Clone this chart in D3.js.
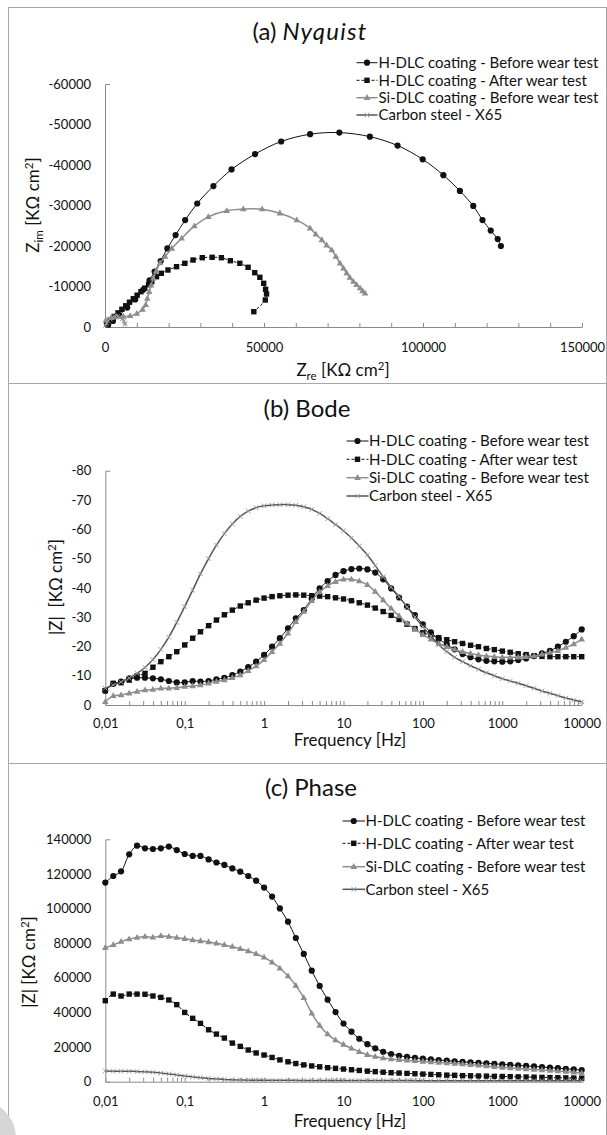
<!DOCTYPE html>
<html>
<head>
<meta charset="utf-8">
<script src="https://cdn.jsdelivr.net/npm/d3@7"></script>
<style>
  html, body { margin: 0; padding: 0; background: #fff; }
  svg { display: block; }
</style>
</head>
<body>
<svg id="fig" width="607" height="1135"></svg>
<script>
// ---------------------------------------------------------------------------
// Data
// ---------------------------------------------------------------------------
const seriesNames = [
  "H-DLC coating - Before wear test",
  "H-DLC coating - After wear test",
  "Si-DLC coating - Before wear test",
  "Carbon steel - X65"
];

// Nyquist: [Z_re, Z_im] in KΩ cm²
const nyqHdlcBefore = [[1000,-500],[2500,-1500],[4500,-2900],[7000,-4800],[9500,-6800],[12000,-9200],[14000,-11500],[15600,-13700],[17500,-16300],[19600,-19400],[22200,-22700],[25200,-26400],[29000,-30500],[34100,-34800],[39800,-38900],[47200,-42700],[55400,-45800],[64500,-47600],[73700,-48000],[83300,-47000],[92000,-44800],[99900,-41400],[106400,-37500],[111600,-33600],[115800,-29900],[118700,-26400],[121300,-23800],[123500,-21700],[124500,-20000]];
const nyqHdlcAfter = [[530,-910],[1700,-1760],[2900,-2630],[4100,-3500],[5300,-4370],[6500,-5240],[7700,-6110],[8900,-6980],[10100,-7850],[11300,-8720],[12500,-9590],[13700,-10460],[14700,-11180],[16200,-12420],[17700,-13260],[19800,-14070],[22500,-14890],[25100,-15730],[27700,-16540],[30600,-17110],[33700,-17210],[36600,-17110],[39400,-16370],[42400,-15730],[45000,-14740],[47100,-13410],[48700,-12270],[49900,-10790],[50500,-9310],[50800,-8150],[50400,-6670],[46800,-3780]];
const nyqSiDlc = [[300,-1700],[2000,-2300],[3700,-2550],[5800,-2600],[7900,-2750],[10000,-3300],[11800,-4300],[12800,-5500],[13300,-7000],[13900,-8700],[14500,-10300],[15200,-12000],[16100,-13800],[17300,-15800],[18900,-17400],[21000,-19400],[24100,-21900],[28100,-24900],[32500,-27200],[38300,-28700],[43500,-29100],[49400,-29100],[55000,-28100],[60300,-26400],[64500,-24400],[66300,-22900],[68200,-21500],[69700,-20200],[71300,-19000],[72600,-17400],[73900,-15700],[75000,-14500],[76000,-13300],[77000,-12200],[78100,-11200],[79100,-10400],[80200,-9600],[81000,-8900],[81800,-8300]];
const nyqSteel = [[200,-400],[500,-900],[1000,-1500],[1600,-2000],[2300,-2400],[3100,-2600],[3900,-2600],[4700,-2400],[5400,-2000],[5900,-1500],[6200,-1000],[6300,-600]];

// Frequency sweep shared by the Bode and Phase panels (Hz)
const freqHz = [0.01,0.0126,0.0158,0.02,0.0251,0.0316,0.0398,0.0501,0.0631,0.0794,
  0.1,0.126,0.158,0.2,0.251,0.316,0.398,0.501,0.631,0.794,
  1,1.26,1.58,2,2.51,3.16,3.98,5.01,6.31,7.94,
  10,12.6,15.8,20,25.1,31.6,39.8,50.1,63.1,79.4,
  100,126,158,200,251,316,398,501,631,794,
  1000,1259,1585,1995,2512,3162,3981,5012,6310,7943,10000];

// Bode panel values
const bodeHdlcBefore = [-4.9,-7.2,-8.0,-9.1,-9.3,-9.3,-9.1,-8.8,-8.2,-7.7,-7.7,-8.2,-8.0,-8.2,-8.8,-9.3,-10.2,-11.4,-12.9,-14.8,-17.1,-19.9,-22.8,-26.2,-29.6,-32.4,-36.4,-39.8,-42.3,-44.4,-45.7,-46.4,-46.6,-46.3,-45.2,-42.9,-39.8,-36.7,-33.6,-30.7,-27.5,-24.8,-22.6,-20.7,-19.0,-17.4,-16.3,-15.6,-15.1,-14.9,-14.8,-14.9,-15.4,-15.9,-16.7,-17.6,-18.5,-19.9,-21.6,-23.5,-25.8];
const bodeHdlcAfter = [-4.9,-7.4,-7.6,-8.5,-9.9,-10.8,-12.9,-14.8,-16.5,-18.2,-20.5,-22.8,-25.0,-27.1,-29.0,-30.8,-32.4,-33.8,-34.9,-35.8,-36.5,-37.0,-37.3,-37.5,-37.6,-37.5,-37.3,-37.2,-37.0,-36.6,-36.2,-35.6,-34.9,-34.1,-33.1,-31.9,-30.6,-29.2,-27.6,-26.1,-24.7,-23.8,-23.0,-22.3,-21.6,-21.0,-20.4,-19.9,-19.3,-18.9,-18.4,-18.0,-17.5,-17.2,-16.8,-16.6,-16.5,-16.5,-16.5,-16.5,-16.5];
const bodeSiDlc = [-1.1,-3.1,-3.4,-4.0,-4.6,-5.1,-5.3,-5.7,-5.7,-5.9,-6.3,-6.5,-6.8,-7.4,-8.0,-8.5,-9.3,-10.2,-11.7,-13.3,-15.4,-18.2,-21.0,-24.5,-28.4,-31.9,-35.6,-38.6,-40.7,-42.1,-42.9,-42.9,-42.3,-41.0,-38.7,-35.8,-33.0,-30.4,-27.9,-25.8,-24.0,-22.4,-21.0,-19.9,-19.0,-18.2,-17.6,-17.1,-16.7,-16.5,-16.3,-16.3,-16.3,-16.5,-16.7,-17.3,-17.9,-18.5,-19.6,-20.8,-22.4];
const bodeSteel = [-5.7,-6.8,-7.9,-9.2,-10.8,-12.8,-15.5,-19.0,-23.2,-28.2,-33.6,-39.2,-44.8,-50.0,-54.6,-58.5,-61.8,-64.4,-66.2,-67.4,-68.0,-68.3,-68.4,-68.4,-68.2,-67.7,-66.8,-65.4,-63.6,-61.6,-59.5,-57.0,-54.3,-51.2,-47.6,-43.8,-40.2,-37.0,-33.5,-30.0,-26.7,-23.5,-20.6,-18.2,-16.3,-14.8,-13.4,-12.2,-11.0,-10.0,-9.0,-8.2,-7.4,-6.6,-5.7,-4.8,-4.0,-3.2,-2.4,-1.7,-1.1];

// Phase panel values, |Z| in KΩ cm²
const phaseHdlcBefore = [115000,118800,121500,131300,136300,134800,134400,134800,135800,133800,131500,130400,130400,128400,126600,125200,123200,121300,118800,116100,112100,106900,100100,92400,83000,73800,64100,55300,47400,40200,33600,28900,24800,21700,19300,17300,16000,15000,14300,13800,13300,12900,12500,12200,11800,11500,11200,10900,10600,10300,10000,9700,9400,9100,8800,8500,8100,7800,7400,7100,6700];
const phaseHdlcAfter = [46800,50600,49500,50600,50600,50500,49500,48700,47200,44500,40000,36600,33700,30000,27500,25200,22300,20400,18300,16600,15400,14000,12600,11500,10500,9700,9100,8600,8100,7700,7300,6900,6500,6100,5800,5500,5200,5000,4800,4600,4400,4200,4000,3800,3700,3500,3400,3300,3200,3100,3000,2900,2800,2700,2600,2500,2400,2300,2200,2100,2000];
const phaseSiDlc = [77400,79000,80900,82400,83200,83800,83400,84200,83800,83200,82600,81800,81300,80700,79900,79000,78000,76800,75500,73800,71800,69000,65500,61000,55500,48500,39500,32500,27500,24000,21500,19300,17300,15600,14500,13700,13100,12700,12300,12000,11700,11400,11100,10800,10500,10200,9800,9400,9000,8600,8200,7900,7600,7300,7000,6700,6400,6100,5800,5400,5000];
const phaseSteel = [6200,6100,6100,6000,5900,5700,5400,5000,4500,3900,3300,2800,2300,1900,1600,1300,1100,1000,900,850,800,800,790,780,770,760,750,740,730,720,710,700,690,680,670,660,650,640,630,620,610,600,600,600,600,600,600,600,600,600,600,600,600,600,600,600,600,600,600,600,600];

// Tick values and labels
const nyqXTicks = [0,10000,20000,30000,40000,50000,60000,70000,80000,90000,100000,110000,120000,130000,140000,150000];
const nyqXLabels = [0, 50000, 100000, 150000];
const nyqYTicks = [0,-10000,-20000,-30000,-40000,-50000,-60000];
const bodeYTicks = [0,-10,-20,-30,-40,-50,-60,-70,-80];
const phaseYTicks = [0,20000,40000,60000,80000,100000,120000,140000];
const decadeTicks = [0.01,0.1,1,10,100,1000,10000];
const decadeLabels = ["0,01","0,1","1","10","100","1000","10000"];

// ---------------------------------------------------------------------------
// Styling
// ---------------------------------------------------------------------------
const FONT = "Lato, 'Open Sans', sans-serif";
const AXIS = "#8a8a8a";
const TXT = "#111";
const STYLES = [
  { stroke: "#111", dash: null,  width: 1,   marker: "circle",   fill: "#111" },
  { stroke: "#111", dash: "3,2", width: 1,   marker: "square",   fill: "#111" },
  { stroke: "#8d8d8d", dash: null, width: 1.5, marker: "triangle", fill: "#8d8d8d" },
  { stroke: "#555", dash: null, width: 1.5, marker: "cross",    fill: "#9a9a9a" }
];

const svg = d3.select("#fig");

// panel frames
svg.append("rect").attr("x", 8.5).attr("y", 7.5).attr("width", 598).attr("height", 376)
  .attr("fill", "none").attr("stroke", "#a8a8a8");
svg.append("rect").attr("x", 8.5).attr("y", 383.5).attr("width", 598).attr("height", 380)
  .attr("fill", "none").attr("stroke", "#a8a8a8");
svg.append("rect").attr("x", 8.5).attr("y", 763.5).attr("width", 598).attr("height", 400)
  .attr("fill", "none").attr("stroke", "#a8a8a8");
// faint grey blot in the lower-left corner
svg.append("circle").attr("cx", -22).attr("cy", 1138).attr("r", 38).attr("fill", "#d6d6d6");

function marker(g, type, x, y, color) {
  if (type === "circle") {
    g.append("circle").attr("cx", x).attr("cy", y).attr("r", 3.1).attr("fill", color);
  } else if (type === "square") {
    g.append("rect").attr("x", x - 2.7).attr("y", y - 2.7).attr("width", 5.4).attr("height", 5.4).attr("fill", color);
  } else if (type === "triangle") {
    const p = d3.path();
    p.moveTo(x, y - 3.6); p.lineTo(x + 3.3, y + 2.2); p.lineTo(x - 3.3, y + 2.2); p.closePath();
    g.append("path").attr("d", p.toString()).attr("fill", color);
  } else {
    const p = d3.path();
    p.moveTo(x - 2.3, y - 2.3); p.lineTo(x + 2.3, y + 2.3);
    p.moveTo(x - 2.3, y + 2.3); p.lineTo(x + 2.3, y - 2.3);
    g.append("path").attr("d", p.toString()).attr("stroke", color).attr("stroke-width", 1).attr("fill", "none");
  }
}

function drawSeries(g, pts, style) {
  const line = d3.line().x(d => d[0]).y(d => d[1]).curve(d3.curveCatmullRom.alpha(0.5));
  g.append("path").attr("d", line(pts)).attr("fill", "none")
    .attr("stroke", style.stroke).attr("stroke-width", style.width)
    .attr("stroke-dasharray", style.dash);
  pts.forEach(p => marker(g, style.marker, p[0], p[1], style.fill));
}

function styleAxis(sel) {
  sel.select(".domain").attr("stroke", AXIS);
  sel.selectAll(".tick line").attr("stroke", AXIS);
  sel.selectAll(".tick text").attr("font-family", FONT).attr("font-size", 13).attr("fill", TXT);
}

function richText(sel, parts, size) {
  let shift = 0;
  parts.forEach(p => {
    const target = p.sub ? 4 : p.sup ? -6 : 0;
    const t = sel.append("tspan").text(p.t).attr("dy", target - shift);
    if (p.sub || p.sup) t.attr("font-size", size * 0.68);
    shift = target;
  });
}

function title(x, y, parts) {
  const t = svg.append("text").attr("x", x).attr("y", y).attr("text-anchor", "middle")
    .attr("font-family", FONT).attr("font-size", 24).attr("fill", TXT);
  parts.forEach(p => {
    const s = t.append("tspan").text(p.t);
    if (p.italic) s.attr("font-style", "italic").attr("letter-spacing", 1.2);
  });
}

function xTitle(x, y, parts) {
  const t = svg.append("text").attr("x", x).attr("y", y).attr("text-anchor", "middle")
    .attr("font-family", FONT).attr("font-size", 17).attr("fill", TXT);
  richText(t, parts, 17);
}

function yTitle(x, y, parts) {
  const t = svg.append("text").attr("transform", `translate(${x},${y}) rotate(-90)`)
    .attr("text-anchor", "middle").attr("font-family", FONT).attr("font-size", 17).attr("fill", TXT);
  richText(t, parts, 17);
}

function legend(x1, x2, textX, rows) {
  const g = svg.append("g");
  rows.forEach((y, i) => {
    const st = STYLES[i];
    g.append("line").attr("x1", x1).attr("x2", x2).attr("y1", y).attr("y2", y)
      .attr("stroke", st.stroke).attr("stroke-width", st.width).attr("stroke-dasharray", st.dash);
    marker(g, st.marker, (x1 + x2) / 2, y, st.fill);
    g.append("text").attr("x", textX).attr("y", y).attr("dy", "0.36em")
      .attr("font-family", FONT).attr("font-size", 15).attr("fill", TXT).text(seriesNames[i]);
  });
}

const minusFmt = d => d === 0 ? "0" : "-" + Math.abs(d);

// ---------------------------------------------------------------------------
// (a) Nyquist
// ---------------------------------------------------------------------------
{
  const x = d3.scaleLinear().domain([0, 150000]).range([105, 582]);
  const y = d3.scaleLinear().domain([0, -60000]).range([327, 84]);
  const g = svg.append("g");

  const ax = g.append("g").attr("transform", `translate(0,${y(0)})`)
    .call(d3.axisBottom(x).tickValues(nyqXTicks).tickSizeInner(-4).tickSizeOuter(0).tickPadding(16)
      .tickFormat(d => nyqXLabels.includes(d) ? String(d) : ""));
  styleAxis(ax);
  const ay = g.append("g").attr("transform", `translate(${x(0)},0)`)
    .call(d3.axisLeft(y).tickValues(nyqYTicks).tickSizeInner(0).tickSizeOuter(-5).tickPadding(14).tickFormat(minusFmt));
  styleAxis(ay);

  const data = [nyqHdlcBefore, nyqHdlcAfter, nyqSiDlc, nyqSteel];
  data.forEach((s, i) => drawSeries(g, s.map(d => [x(d[0]), y(d[1])]), STYLES[i]));

  title(310, 40, [{ t: "(a) " }, { t: "Nyquist", italic: true }]);
  legend(356.5, 377.5, 378.5, [62.7, 80.3, 97.7, 115]);
  xTitle(343, 376, [{ t: "Z" }, { t: "re", sub: true }, { t: " [KΩ cm" }, { t: "2", sup: true }, { t: "]" }]);
  yTitle(39, 205, [{ t: "Z" }, { t: "im", sub: true }, { t: " [KΩ cm" }, { t: "2", sup: true }, { t: "]" }]);
}

// log frequency axis with minor ticks
function freqAxis(g, x, y0, pad) {
  const ticks = [];
  decadeTicks.forEach((d, i) => {
    ticks.push(d);
    if (i < decadeTicks.length - 1) for (let k = 2; k <= 9; k++) ticks.push(d * k);
  });
  const ax = g.append("g").attr("transform", `translate(0,${y0})`)
    .call(d3.axisBottom(x).tickValues(ticks).tickSizeInner(-4).tickSizeOuter(0).tickPadding(pad)
      .tickFormat(d => {
        const i = decadeTicks.findIndex(v => Math.abs(v - d) / v < 1e-9);
        return i >= 0 ? decadeLabels[i] : "";
      }));
  styleAxis(ax);
}

// ---------------------------------------------------------------------------
// (b) Bode
// ---------------------------------------------------------------------------
{
  const x = d3.scaleLog().domain([0.01, 10000]).range([105.3, 581.7]);
  const y = d3.scaleLinear().domain([0, -80]).range([705, 470.7]);
  const g = svg.append("g");
  freqAxis(g, x, y(0), 14);
  const ay = g.append("g").attr("transform", `translate(${x(0.01)},0)`)
    .call(d3.axisLeft(y).tickValues(bodeYTicks).tickSizeInner(0).tickSizeOuter(-5).tickPadding(14).tickFormat(minusFmt));
  styleAxis(ay);

  const data = [bodeHdlcBefore, bodeHdlcAfter, bodeSiDlc, bodeSteel];
  data.forEach((s, i) => drawSeries(g, s.map((v, k) => [x(freqHz[k]), y(v)]), STYLES[i]));

  title(307, 417, [{ t: "(b) Bode" }]);
  legend(346.5, 368.5, 369, [441, 459.3, 477.7, 496]);
  xTitle(350, 746, [{ t: "Frequency [Hz]" }]);
  yTitle(62, 587, [{ t: "|Z|\u00a0\u00a0[KΩ cm" }, { t: "2", sup: true }, { t: "]" }]);
}

// ---------------------------------------------------------------------------
// (c) Phase
// ---------------------------------------------------------------------------
{
  const x = d3.scaleLog().domain([0.01, 10000]).range([105.3, 581.7]);
  const y = d3.scaleLinear().domain([0, 140000]).range([1081.7, 839.3]);
  const g = svg.append("g");
  freqAxis(g, x, y(0), 15);
  const ay = g.append("g").attr("transform", `translate(${x(0.01)},0)`)
    .call(d3.axisLeft(y).tickValues(phaseYTicks).tickSizeInner(0).tickSizeOuter(-5).tickPadding(14).tickFormat(d => String(d)));
  styleAxis(ay);

  const data = [phaseHdlcBefore, phaseHdlcAfter, phaseSiDlc, phaseSteel];
  data.forEach((s, i) => drawSeries(g, s.map((v, k) => [x(freqHz[k]), y(v)]), STYLES[i]));

  title(311, 796, [{ t: "(c) Phase" }]);
  legend(342.5, 365, 365.5, [821, 843.3, 866.7, 889.3]);
  xTitle(350, 1127, [{ t: "Frequency [Hz]" }]);
  yTitle(35, 962, [{ t: "|Z| [KΩ cm" }, { t: "2", sup: true }, { t: "]" }]);
}
</script>
</body>
</html>
